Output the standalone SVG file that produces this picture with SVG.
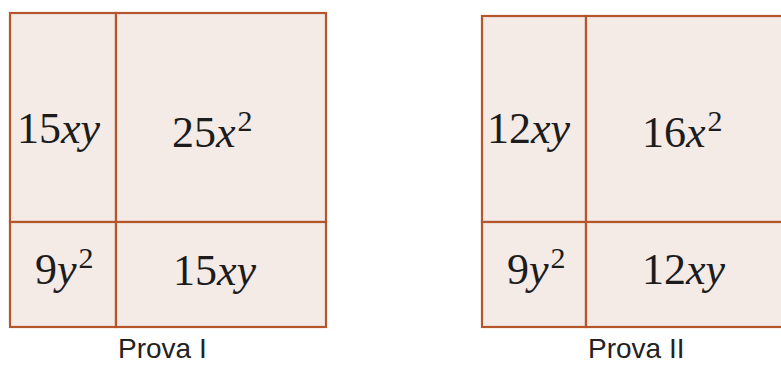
<svg xmlns="http://www.w3.org/2000/svg" width="781" height="365" viewBox="0 0 781 365">
<style>
.cell{fill:#f4eae6;stroke:#b4552b;stroke-width:2.2}
.m{font-family:"Liberation Serif","Times New Roman",serif;font-size:44px;fill:#1c1c1c}
.i{font-style:italic}
.sup{font-size:30px}
.lbl{font-family:"Liberation Sans",Arial,sans-serif;font-size:28px;fill:#222}
</style>
<rect width="781" height="365" fill="#ffffff"/>
<g id="prova-1">
  <g id="p1-tl"><rect class="cell" x="10" y="13" width="106" height="209"/>
    <text class="m" x="17" y="143">15<tspan class="i">xy</tspan></text></g>
  <g id="p1-tr"><rect class="cell" x="116" y="13" width="210" height="209"/>
    <text class="m" x="172" y="147">25<tspan class="i">x</tspan><tspan class="sup" dx="2" dy="-16">2</tspan></text></g>
  <g id="p1-bl"><rect class="cell" x="10" y="222" width="106" height="105"/>
    <text class="m" x="35" y="284">9<tspan class="i">y</tspan><tspan class="sup" dx="2" dy="-16">2</tspan></text></g>
  <g id="p1-br"><rect class="cell" x="116" y="222" width="210" height="105"/>
    <text class="m" x="173" y="285">15<tspan class="i">xy</tspan></text></g>
  <text class="lbl" x="118" y="358">Prova I</text>
</g>
<g id="prova-2">
  <g id="p2-tl"><rect class="cell" x="482" y="16" width="104" height="206"/>
    <text class="m" x="487" y="143">12<tspan class="i">xy</tspan></text></g>
  <g id="p2-tr"><rect class="cell" x="586" y="16" width="220" height="206"/>
    <text class="m" x="642" y="147">16<tspan class="i">x</tspan><tspan class="sup" dx="2" dy="-16">2</tspan></text></g>
  <g id="p2-bl"><rect class="cell" x="482" y="222" width="104" height="105"/>
    <text class="m" x="507" y="284">9<tspan class="i">y</tspan><tspan class="sup" dx="2" dy="-16">2</tspan></text></g>
  <g id="p2-br"><rect class="cell" x="586" y="222" width="220" height="105"/>
    <text class="m" x="642" y="284">12<tspan class="i">xy</tspan></text></g>
  <text class="lbl" x="588" y="358">Prova II</text>
</g>
<g id="connectors"></g>
</svg>
